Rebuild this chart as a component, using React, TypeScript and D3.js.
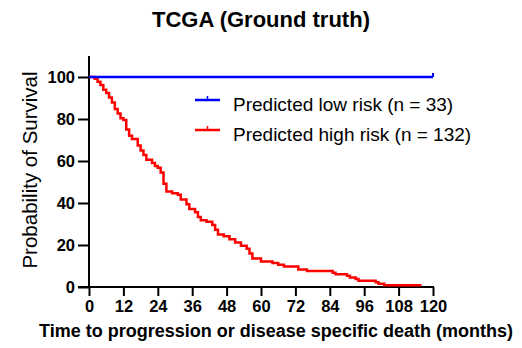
import React, { useEffect, useRef } from 'react';
import * as d3 from 'd3';

// Kaplan-Meier steps: month at which survival drops, and new survival (%)
const highRiskTimes = [0, 2, 3, 4, 5, 6, 7, 8, 9, 10, 11, 12, 13, 14, 15, 17, 18, 19, 20, 22, 23, 24, 25, 26, 27, 29, 31, 32, 34, 35, 37, 38, 39, 41, 43, 44, 45, 47, 49, 51, 53, 55, 56, 57, 60, 64, 66, 68, 73, 76, 85, 86, 90, 91, 93, 94, 100, 101, 103, 116];
const highRiskSurv = [100, 99.2, 97.7, 96.2, 93.9, 92.4, 90.2, 87.9, 84.8, 82.6, 80.3, 79.5, 75, 72, 70.5, 67.4, 65, 62.9, 60.6, 59.1, 57.6, 56.8, 54.5, 49.2, 45.5, 44.7, 43.9, 41.7, 39.4, 37.1, 35.6, 33.3, 31.8, 31.1, 29.5, 27.3, 25, 24.2, 22.7, 21.2, 19.7, 18.2, 15.9, 13.6, 12.1, 11.4, 10.6, 9.8, 8.3, 7.6, 6.8, 6.1, 5.3, 4.5, 3.8, 3, 2.3, 1.5, 0.8, 0.8];
const lowRiskTimes = [0, 120];
const lowRiskSurv = [100, 100];

const xTicks = [0, 12, 24, 36, 48, 60, 72, 84, 96, 108, 120];
const yTicks = [0, 20, 40, 60, 80, 100];

const seriesNames = ['Predicted low risk (n = 33)', 'Predicted high risk (n = 132)'];
const seriesColors = ['#0000ff', '#ff0000'];

const App: React.FC = () => {
  const svgRef = useRef<SVGSVGElement>(null);

  useEffect(() => {
    if (!svgRef.current) return;
    const svg = d3.select(svgRef.current);
    svg.selectAll('*').remove();

    const font = 'Liberation Sans, Arial, sans-serif';
    const x = d3.scaleLinear().domain([0, 120]).range([89, 433]);
    const y = d3.scaleLinear().domain([0, 100]).range([287, 77]);

    // Title
    svg.append('text')
      .attr('x', 261).attr('y', 27)
      .attr('text-anchor', 'middle')
      .style('font-family', font).style('font-size', '22px').style('font-weight', 'bold')
      .text('TCGA (Ground truth)');

    // Y axis
    const yAxis = svg.append('g').attr('transform', `translate(${x(0)},0)`)
      .call(d3.axisLeft(y).tickValues(yTicks).tickSize(11).tickPadding(3));
    yAxis.select('.domain').remove();
    yAxis.append('line')
      .attr('x1', 0).attr('x2', 0).attr('y1', y(0) + 1).attr('y2', y(110))
      .attr('stroke', '#000').attr('stroke-width', 2);
    yAxis.selectAll('.tick line').attr('stroke-width', 2);
    yAxis.selectAll('.tick text')
      .style('font-family', font).style('font-size', '16.5px').style('font-weight', 'bold').attr('fill', '#000');

    // X axis
    const xAxis = svg.append('g').attr('transform', `translate(0,${y(0)})`)
      .call(d3.axisBottom(x).tickValues(xTicks).tickSize(9).tickPadding(4));
    xAxis.select('.domain').remove();
    xAxis.append('line')
      .attr('x1', x(0) - 11).attr('x2', x(120) + 1).attr('y1', 0).attr('y2', 0)
      .attr('stroke', '#000').attr('stroke-width', 2);
    xAxis.selectAll('.tick line').attr('stroke-width', 2);
    xAxis.selectAll('.tick text')
      .style('font-family', font).style('font-size', '16.5px').style('font-weight', 'bold').attr('fill', '#000');

    // Axis labels
    svg.append('text')
      .attr('transform', `translate(37,170) rotate(-90)`)
      .attr('text-anchor', 'middle')
      .style('font-family', font).style('font-size', '20.5px')
      .text('Probability of Survival');
    svg.append('text')
      .attr('x', 276).attr('y', 337)
      .attr('text-anchor', 'middle')
      .style('font-family', font).style('font-size', '18px').style('font-weight', 'bold')
      .text('Time to progression or disease specific death (months)');

    const line = d3.line<[number, number]>()
      .x(d => x(d[0])).y(d => y(d[1]))
      .curve(d3.curveStepAfter);

    const toPts = (t: number[], s: number[]) => t.map((v, i) => [v, s[i]] as [number, number]);

    svg.append('path')
      .datum(toPts(highRiskTimes, highRiskSurv))
      .attr('fill', 'none').attr('stroke', seriesColors[1]).attr('stroke-width', 2.5)
      .attr('d', line);

    svg.append('path')
      .datum(toPts(lowRiskTimes, lowRiskSurv))
      .attr('fill', 'none').attr('stroke', seriesColors[0]).attr('stroke-width', 2.5)
      .attr('d', line);
    // censor mark at end of low risk
    svg.append('line')
      .attr('x1', x(120)).attr('x2', x(120)).attr('y1', y(100)).attr('y2', y(100) - 4)
      .attr('stroke', seriesColors[0]).attr('stroke-width', 2);

    // Legend
    seriesNames.forEach((name, i) => {
      const g = svg.append('g').attr('transform', `translate(195,${100 + i * 30})`);
      g.append('line').attr('x1', 0).attr('x2', 25).attr('y1', 0).attr('y2', 0)
        .attr('stroke', seriesColors[i]).attr('stroke-width', 2.5);
      g.append('line').attr('x1', 12.5).attr('x2', 12.5).attr('y1', 0).attr('y2', -4)
        .attr('stroke', seriesColors[i]).attr('stroke-width', 1.5);
      g.append('text').attr('x', 38).attr('y', 11)
        .style('font-family', font).style('font-size', '19px')
        .text(name);
    });
  }, []);

  return <svg ref={svgRef} width={522} height={348} style={{ position: 'absolute', left: 0, top: 0 }} />;
};

export default App;
